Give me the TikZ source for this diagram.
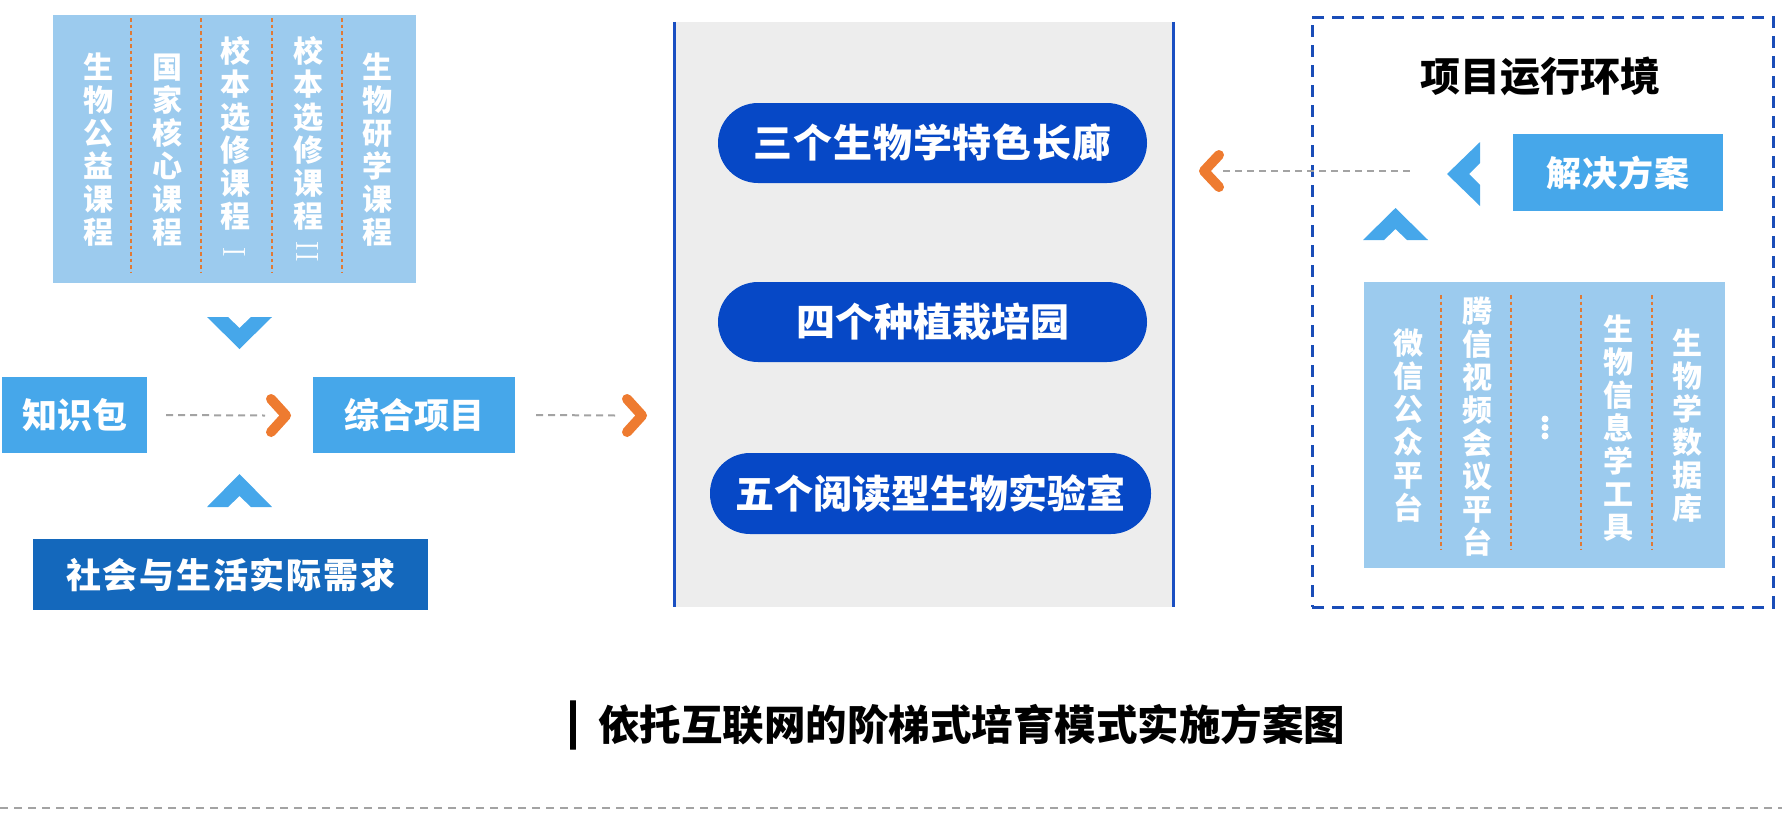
\documentclass[tikz,border=0pt]{standalone}
\usepackage{fontspec}
\newfontfamily\cjk{Noto Sans CJK SC}
\usetikzlibrary{calc}
\definecolor{lightbox}{HTML}{9CCBEE}
\definecolor{midblue}{HTML}{46A7EA}
\definecolor{darkblue}{HTML}{1468BC}
\definecolor{pillblue}{HTML}{0648C6}
\definecolor{panelgray}{HTML}{EDEDED}
\definecolor{panelline}{HTML}{1A4FC2}
\definecolor{envline}{HTML}{1A4DB8}
\definecolor{orangec}{HTML}{EE7B30}
\definecolor{sepor}{HTML}{E07A35}
\definecolor{dashgray}{HTML}{A3A3A3}
\tikzset{
  bgbox/.style={fill=lightbox, draw=none, inner sep=0pt},
  midbox/.style={fill=midblue, text=white, inner sep=0pt, font=\cjk\bfseries\fontsize{35}{35}\selectfont},
  darkbox/.style={fill=darkblue, text=white, inner sep=0pt, font=\cjk\bfseries\fontsize{35}{35}\selectfont},
  pillbox/.style={fill=pillblue, text=white, inner sep=0pt, rounded corners=40pt, minimum height=80pt, font=\cjk\bfseries\fontsize{39}{39}\selectfont},
  coltext/.style={text=white, align=center, inner sep=0pt, font=\cjk\bfseries\fontsize{30}{33}\selectfont},
  numtext/.style={text=white, inner sep=0pt, rotate=90, font=\fontsize{32}{32}\selectfont},
  sepline/.style={draw=sepor, line width=2pt, dash pattern=on 3.5pt off 3pt},
  gdash/.style={draw=dashgray, line width=2pt, dash pattern=on 7pt off 5pt},
  ochev/.style={draw=orangec, line width=10pt, line cap=round, line join=round},
  bchev/.style={fill=midblue, draw=none},
  titletext/.style={text=black, inner sep=0pt, font=\cjk\bfseries\fontsize{40}{40}\selectfont},
}
\begin{document}
\begin{tikzpicture}[x=1pt,y=-1pt]
\useasboundingbox (0,0) rectangle (1782,812);
% ---------- left: courses ----------
\node[bgbox, minimum width=363pt, minimum height=268pt] (courses) at (234.5,149) {};
\foreach \x in {131,201,272,342}{\draw[sepline] (\x,18) -- (\x,273);}
\node[coltext] (c1) at (98,150) {生\\物\\公\\益\\课\\程};
\node[coltext] (c2) at (167,150) {国\\家\\核\\心\\课\\程};
\node[coltext] (c3) at (235,133.5) {校\\本\\选\\修\\课\\程};
\node[numtext] (c3n) at (235,252) {I};
\node[coltext] (c4) at (308,133.5) {校\\本\\选\\修\\课\\程};
\node[numtext] (c4n) at (308,252) {II};
\node[coltext] (c5) at (377,150) {生\\物\\研\\学\\课\\程};
% chevrons
\fill[bchev] (207,317) -- (228,317) -- (239.5,328) -- (251,317) -- (272,317) -- (239.5,349) -- cycle;
\fill[bchev] (207,507) -- (228,507) -- (239.5,496) -- (251,507) -- (272,507) -- (239.5,474) -- cycle;
% knowledge / project
\node[midbox, minimum width=145pt, minimum height=76pt] (zsb) at (74.5,415) {知识包};
\node[midbox, minimum width=202pt, minimum height=76pt] (zhxm) at (414,415) {综合项目};
\node[darkbox, minimum width=395pt, minimum height=71pt] (social) at (230.5,574.5) {\addfontfeatures{LetterSpace=5}社会与生活实际需求};
\coordinate (a1) at (286,415.5);
\coordinate (a2) at (642,415.5);
\draw[gdash] ($(zsb.east)+(19,0)$) -- ($(a1)+(-21,0)$);
\draw[ochev] ($(a1)+(-15,-16.5)$) -- (a1) -- ($(a1)+(-15,16.5)$);
\draw[gdash] ($(zhxm.east)+(21,0)$) -- ($(a2)+(-26,0)$);
\draw[ochev] ($(a2)+(-15,-16.5)$) -- (a2) -- ($(a2)+(-15,16.5)$);
% ---------- middle panel ----------
\node[fill=panelgray, inner sep=0pt, minimum width=498pt, minimum height=585pt] (panel) at (924,314.5) {};
\draw[panelline, line width=3pt] (panel.north west) -- (panel.south west);
\draw[panelline, line width=3pt] (panel.north east) -- (panel.south east);
\node[pillbox, minimum width=429pt] (p1) at (932.5,143) {\addfontfeatures{LetterSpace=2}三个生物学特色长廊};
\node[pillbox, minimum width=429pt] (p2) at (932.5,322) {四个种植栽培园};
\node[pillbox, minimum width=441pt, minimum height=81pt] (p3) at (930.5,493.5) {五个阅读型生物实验室};
% ---------- right: environment ----------
\node[draw=envline, line width=3pt, dash pattern=on 12pt off 8pt, inner sep=0pt, minimum width=461pt, minimum height=590pt] (env) at (1542.5,312) {};
\node[titletext] (envt) at (1540,76) {项目运行环境};
\node[midbox, minimum width=210pt, minimum height=77pt] (sol) at (1618,172.5) {\addfontfeatures{LetterSpace=3}解决方案};
\fill[bchev] (1480,142) -- (1480,163) -- (1469,174) -- (1480,185) -- (1480,206) -- (1447,174) -- cycle;
\fill[bchev] (1363,240) -- (1384,240) -- (1395.5,229) -- (1407,240) -- (1428,240) -- (1395.5,208) -- cycle;
\coordinate (a3) at (1204,171);
\draw[gdash] ($(a3)+(19,0)$) -- ($(sol.west)+(-100,-1.5)$);
\draw[ochev] ($(a3)+(15,-16)$) -- (a3) -- ($(a3)+(15,16)$);
\node[bgbox, minimum width=361pt, minimum height=286pt] (tools) at (1544.5,425) {};
\foreach \x in {1441,1511,1581,1652}{\draw[sepline] (\x,295) -- (\x,550);}
\node[coltext] (r1) at (1408,426) {微\\信\\公\\众\\平\\台};
\node[coltext] (r2) at (1477,426.5) {腾\\信\\视\\频\\会\\议\\平\\台};
\foreach \y in {419,427.5,436}{\fill[white] (1545,\y) circle (3.5pt);}
\node[coltext] (r3) at (1618,428.5) {生\\物\\信\\息\\学\\工\\具};
\node[coltext] (r4) at (1687,426) {生\\物\\学\\数\\据\\库};
% ---------- caption ----------
\node[titletext, font=\cjk\bfseries\fontsize{42}{42}\selectfont] (bar) at (573,725) {\addfontfeatures{FakeBold=2.5}|};
\node[titletext, font=\cjk\bfseries\fontsize{41.5}{42}\selectfont] (caption) at (971.5,724.5) {依托互联网的阶梯式培育模式实施方案图};
\draw[gdash, dash pattern=on 8pt off 6pt] (0,808) -- (1782,808);
\end{tikzpicture}
\end{document}
